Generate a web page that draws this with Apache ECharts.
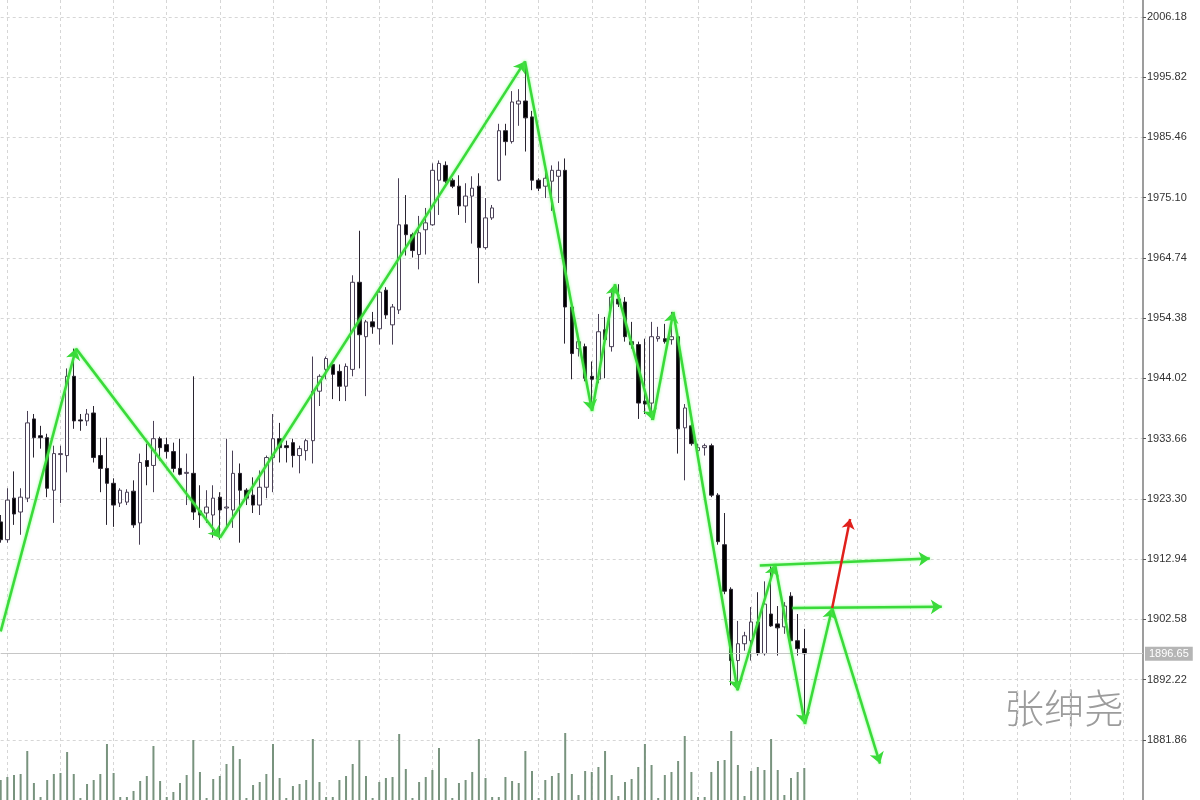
<!DOCTYPE html>
<html>
<head>
<meta charset="utf-8">
<title>XAUUSD zigzag</title>
<script src="https://cdn.jsdelivr.net/npm/echarts@6/dist/echarts.min.js"></script>
<style>
  html, body { margin: 0; padding: 0; background: #fff; }
  #chart { width: 1200px; height: 800px; }
</style>
</head>
<body>
<div id="chart"></div>
<script>
// price bars, oldest first
const OPEN = [
  1919.32, 1916.26, 1923.41, 1921.02, 1923.41, 1937.03, 1934.14, 1933.80, 1924.77, 1930.90,
  1930.73, 1944.36, 1936.86, 1936.69, 1938.05, 1930.73, 1928.52, 1925.96, 1922.56, 1922.73,
  1924.60, 1919.15, 1929.88, 1929.03, 1933.63, 1932.61, 1931.41, 1928.52, 1927.67, 1927.67,
  1921.20, 1920.85, 1920.51, 1923.58, 1921.71, 1921.37, 1927.67, 1924.77, 1923.92, 1922.22,
  1925.28, 1930.39, 1933.63, 1932.43, 1932.95, 1930.73, 1931.58, 1933.29, 1941.80, 1945.55,
  1946.40, 1945.21, 1942.65, 1945.55, 1960.53, 1951.17, 1953.72, 1952.53, 1959.17, 1953.21,
  1955.77, 1970.41, 1968.71, 1965.30, 1969.56, 1970.41, 1978.08, 1980.63, 1978.08, 1977.05,
  1973.65, 1975.35, 1977.05, 1966.49, 1971.60, 1978.08, 1986.59, 1984.72, 1991.19, 1991.70,
  1988.97, 1978.08, 1977.05, 1977.91, 1978.76, 1979.78, 1956.28, 1949.12, 1949.46, 1944.36,
  1943.85, 1952.36, 1949.46, 1957.64, 1957.13, 1950.32, 1949.81, 1940.10, 1939.76, 1950.83,
  1950.83, 1950.66, 1951.17, 1935.50, 1935.84, 1931.58, 1932.09, 1932.43, 1923.92, 1915.40,
  1907.74, 1895.48, 1898.37, 1898.89, 1902.12, 1896.67, 1903.48, 1901.78, 1901.27, 1906.55,
  1898.89, 1897.52
];
const CLOSE = [
  1916.26, 1923.07, 1920.68, 1923.58, 1936.35, 1933.80, 1933.80, 1925.11, 1931.07, 1931.07,
  1944.36, 1936.69, 1936.69, 1937.88, 1930.39, 1928.52, 1925.96, 1922.22, 1924.77, 1924.43,
  1918.81, 1929.54, 1928.86, 1933.63, 1932.09, 1931.41, 1928.52, 1927.50, 1927.84, 1921.02,
  1920.51, 1921.88, 1923.41, 1921.37, 1921.88, 1927.67, 1924.77, 1923.41, 1922.22, 1925.28,
  1930.39, 1933.63, 1932.09, 1932.09, 1930.73, 1931.92, 1933.29, 1941.80, 1944.36, 1947.42,
  1944.70, 1942.65, 1946.06, 1960.53, 1951.51, 1953.72, 1952.87, 1958.83, 1954.91, 1956.28,
  1970.41, 1968.71, 1965.98, 1969.05, 1970.75, 1979.78, 1980.97, 1977.91, 1977.05, 1973.65,
  1975.35, 1976.71, 1966.49, 1971.60, 1973.31, 1986.59, 1984.72, 1991.53, 1991.70, 1988.80,
  1978.08, 1976.71, 1978.42, 1979.78, 1979.78, 1956.28, 1948.27, 1950.32, 1944.02, 1943.85,
  1952.02, 1950.66, 1957.98, 1956.79, 1951.17, 1949.81, 1939.76, 1939.59, 1951.17, 1951.17,
  1950.32, 1951.17, 1935.33, 1938.91, 1932.78, 1932.09, 1932.43, 1923.92, 1915.92, 1907.40,
  1895.48, 1898.37, 1899.74, 1902.12, 1896.67, 1905.19, 1901.44, 1901.10, 1904.85, 1898.89,
  1897.52, 1896.65
];
const LOW = [
  1915.75, 1915.75, 1918.81, 1917.11, 1922.73, 1930.39, 1931.92, 1923.58, 1919.15, 1922.56,
  1927.84, 1935.33, 1934.99, 1935.84, 1929.54, 1924.43, 1918.81, 1918.47, 1921.88, 1922.22,
  1918.30, 1915.40, 1925.62, 1924.43, 1929.88, 1930.22, 1927.84, 1927.33, 1922.22, 1919.66,
  1918.30, 1919.15, 1916.60, 1916.26, 1918.30, 1918.30, 1915.75, 1922.22, 1920.85, 1920.51,
  1923.41, 1924.43, 1929.54, 1929.54, 1928.69, 1927.67, 1929.88, 1929.37, 1939.25, 1943.85,
  1940.44, 1940.10, 1940.10, 1944.36, 1945.72, 1940.95, 1951.68, 1949.81, 1954.23, 1949.81,
  1955.08, 1965.13, 1964.79, 1962.75, 1965.30, 1970.24, 1972.11, 1977.56, 1976.71, 1972.11,
  1970.75, 1967.18, 1960.36, 1966.15, 1971.26, 1977.91, 1982.33, 1984.38, 1987.44, 1983.01,
  1976.37, 1976.20, 1975.01, 1972.80, 1974.16, 1949.98, 1943.85, 1947.76, 1943.50, 1938.40,
  1943.16, 1944.02, 1948.61, 1956.28, 1950.32, 1949.12, 1937.03, 1937.88, 1936.86, 1950.32,
  1949.98, 1949.81, 1931.07, 1926.47, 1932.43, 1930.73, 1930.73, 1923.58, 1915.40, 1906.89,
  1891.22, 1890.37, 1897.18, 1895.48, 1896.33, 1896.33, 1901.27, 1896.33, 1900.08, 1897.18,
  1896.33, 1884.58
];
const HIGH = [
  1920.51, 1925.11, 1928.01, 1925.11, 1938.40, 1937.88, 1935.84, 1934.48, 1932.43, 1932.43,
  1945.72, 1949.12, 1937.88, 1938.74, 1939.25, 1933.80, 1933.80, 1926.82, 1925.11, 1924.94,
  1926.47, 1931.07, 1932.78, 1936.69, 1933.97, 1933.80, 1932.95, 1933.63, 1931.07, 1944.36,
  1925.62, 1924.77, 1925.62, 1924.43, 1933.63, 1931.58, 1929.37, 1925.11, 1926.99, 1928.18,
  1930.73, 1937.88, 1936.35, 1933.29, 1933.63, 1932.43, 1933.63, 1947.76, 1944.70, 1947.76,
  1946.57, 1946.40, 1946.57, 1961.73, 1969.39, 1954.06, 1955.43, 1959.17, 1959.68, 1956.79,
  1978.42, 1975.52, 1969.05, 1971.94, 1973.31, 1980.97, 1981.48, 1981.31, 1978.42, 1978.93,
  1977.56, 1978.76, 1979.27, 1975.01, 1973.82, 1987.78, 1987.78, 1993.40, 1993.74, 1998.51,
  1990.00, 1978.42, 1979.61, 1980.63, 1981.31, 1981.82, 1956.79, 1951.17, 1949.98, 1946.91,
  1955.08, 1954.57, 1958.83, 1960.19, 1957.98, 1953.72, 1950.32, 1950.83, 1953.72, 1952.87,
  1953.38, 1955.43, 1951.68, 1939.59, 1936.35, 1932.78, 1932.78, 1932.78, 1924.26, 1920.85,
  1908.08, 1902.29, 1900.42, 1904.68, 1907.23, 1909.10, 1911.66, 1904.85, 1905.53, 1907.23,
  1903.48, 1900.93
];
const VOLUME = [
  20, 23, 25, 26, 49, 17, 3, 20, 26, 27, 48, 26, 2, 16, 20, 26, 56, 27, 3, 3,
  9, 19, 24, 54, 19, 3, 8, 17, 25, 60, 28, 2, 21, 24, 36, 54, 41, 2, 15, 18,
  26, 56, 22, 2, 14, 16, 20, 61, 18, 3, 3, 20, 24, 36, 60, 24, 2, 18, 22, 23,
  66, 31, 2, 18, 23, 30, 52, 22, 2, 17, 20, 28, 61, 22, 3, 3, 23, 19, 17, 49,
  29, 2, 20, 24, 27, 67, 26, 5, 29, 28, 33, 49, 25, 4, 18, 21, 33, 56, 35, 2,
  25, 28, 39, 64, 28, 3, 3, 28, 39, 40, 69, 35, 4, 29, 33, 30, 61, 30, 5, 22,
  28, 32
];

const SLOTS = 173;          // bars shown incl. empty space on the right
const Y_MIN = 1871.50;
const Y_MAX = 2009.07;
const Y_STEP = 10.36;
const LAST_PRICE = 1896.65;

// zigzag pivots [bar, price]
const ZIGZAG = [
  [0, 1900.5], [11.34, 1949.12], [33.02, 1916.60], [78.95, 1998.51],
  [89.04, 1938.40], [92.5, 1960.19], [98.2, 1936.86], [101.28, 1955.43],
  [110.95, 1890.37], [116.6, 1912.00], [121.1, 1884.58]
];
const PROJECTION = [[121.1, 1884.58], [125.2, 1904.51], [132.4, 1877.77]];
const BREAKOUT = [[125.2, 1904.51], [127.9, 1919.83]];
const LEVEL_HIGH = [[114.3, 1911.83], [139.9, 1913.02]];
const LEVEL_LOW = [[119.2, 1904.51], [141.7, 1904.73]];

const categories = Array.from({ length: SLOTS }, (_, i) => String(i));
const candles = OPEN.map((o, i) => [o, CLOSE[i], LOW[i], HIGH[i]]);

const segments = (pts) => pts.slice(1).map((p, i) => ({ coords: [pts[i], p] }));
const greenLines = [
  ...segments(ZIGZAG),
  ...segments(PROJECTION),
  { coords: LEVEL_HIGH },
  { coords: LEVEL_LOW }
];

const GREEN = '#3ada3a';
const gridLine = { show: true, lineStyle: { color: '#d6d6d6', type: [3, 3], width: 1 } };
const everyEighth = (idx) => idx % 8 === 1;

const chart = echarts.init(document.getElementById('chart'));
chart.setOption({
  animation: false,
  backgroundColor: '#ffffff',
  grid: [
    { left: 0.7, right: 57, top: 0, bottom: -8 },
    { left: 0.7, right: 57, bottom: 0, height: 85 }
  ],
  xAxis: [
    {
      type: 'category', gridIndex: 0, data: categories, boundaryGap: false,
      axisLine: { show: false }, axisLabel: { show: false },
      axisTick: { show: false, interval: everyEighth },
      splitLine: { ...gridLine, interval: everyEighth }
    },
    {
      type: 'category', gridIndex: 1, data: categories, boundaryGap: false, show: false
    },
    {
      type: 'value', gridIndex: 0, min: 0, max: SLOTS - 1, show: false
    }
  ],
  yAxis: [
    {
      type: 'value', gridIndex: 0, position: 'right', scale: true,
      min: Y_MIN, max: Y_MAX, interval: Y_STEP,
      axisLine: { show: true, onZero: false, lineStyle: { color: '#7c7c7c', width: 1.5 } },
      axisTick: { show: true, inside: false, length: 3, lineStyle: { color: '#555' } },
      axisLabel: {
        showMinLabel: false, showMaxLabel: false, margin: 4,
        color: '#333', fontSize: 11, fontFamily: 'Liberation Sans',
        formatter: (v) => v.toFixed(2)
      },
      splitLine: { ...gridLine, showMinLine: false, showMaxLine: false }
    },
    { type: 'value', gridIndex: 1, min: 0, max: 85, show: false }
  ],
  graphic: [
    {
      type: 'text', left: 1004, top: 688, silent: true,
      style: {
        text: '张绅尧', fill: '#9c9c9c', fontSize: 40,
        fontFamily: 'Noto Sans CJK SC', fontWeight: 300
      }
    }
  ],
  series: [
    {
      type: 'bar', name: 'Volume', xAxisIndex: 1, yAxisIndex: 1,
      data: VOLUME, barWidth: 2, itemStyle: { color: '#78937e' }, silent: true
    },
    {
      type: 'candlestick', name: 'Price', xAxisIndex: 0, yAxisIndex: 0,
      data: candles, barWidth: 4,
      itemStyle: {
        color: '#ffffff', color0: '#000000',
        borderColor: '#4a4056', borderColor0: '#2a2430', borderWidth: 1
      },
      markLine: {
        silent: true, symbol: 'none',
        lineStyle: { color: '#c6c6c6', type: 'solid', width: 1 },
        label: {
          position: 'end', distance: 2, formatter: LAST_PRICE.toFixed(2),
          color: '#ffffff', backgroundColor: '#b5b5b5', padding: [2, 4, 1, 4],
          fontSize: 11, fontFamily: 'Liberation Sans'
        },
        data: [{ yAxis: LAST_PRICE }]
      }
    },
    {
      type: 'lines', name: 'ZigZag', coordinateSystem: 'cartesian2d',
      xAxisIndex: 2, yAxisIndex: 0, z: 5,
      symbol: ['none', 'arrow'], symbolSize: 11,
      lineStyle: {
        color: GREEN, width: 2.5, opacity: 1, curveness: 0,
        shadowColor: 'rgba(90,255,90,0.7)', shadowBlur: 3
      },
      data: greenLines
    },
    {
      type: 'lines', name: 'Breakout', coordinateSystem: 'cartesian2d',
      xAxisIndex: 2, yAxisIndex: 0, z: 6,
      symbol: ['none', 'arrow'], symbolSize: 10,
      lineStyle: { color: '#e0201c', width: 2.5, opacity: 1, curveness: 0 },
      data: segments(BREAKOUT)
    }
  ]
});
</script>
</body>
</html>
